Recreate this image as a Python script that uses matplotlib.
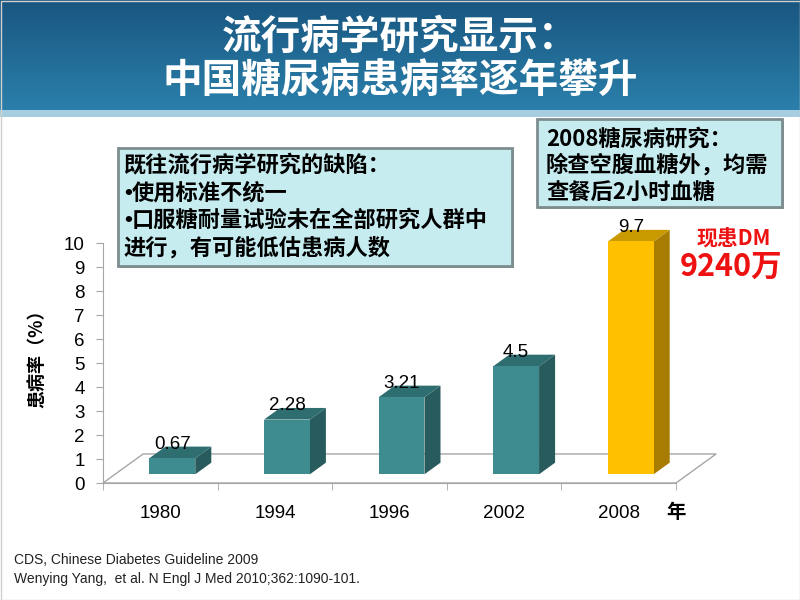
import numpy as np
import matplotlib
matplotlib.use("Agg")
import matplotlib.pyplot as plt
from matplotlib.patches import Rectangle, Polygon

CJK = ["Noto Sans CJK SC", "DejaVu Sans"]
LAT = ["Liberation Sans", "DejaVu Sans"]

# data
years = ["1980", "1994", "1996", "2002", "2008"]
prevalence = [0.67, 2.28, 3.21, 4.5, 9.7]
highlight = [False, False, False, False, True]

title_lines = ["流行病学研究显示：", "中国糖尿病患病率逐年攀升"]
box1_lines = ["既往流行病学研究的缺陷：", "•使用标准不统一",
              "•口服糖耐量试验未在全部研究人群中", "进行，有可能低估患病人数"]
box2_lines = ["2008糖尿病研究：", "除查空腹血糖外，均需", "查餐后2小时血糖"]
refs = ["CDS, Chinese Diabetes Guideline 2009",
        "Wenying Yang,  et al. N Engl J Med 2010;362:1090-101."]

fig = plt.figure(figsize=(8, 6), dpi=100)

# background / slide decorations in pixel coords
bg = fig.add_axes([0, 0, 1, 1], zorder=0)
bg.set_xlim(0, 800); bg.set_ylim(600, 0); bg.axis("off")
grad = np.linspace(0, 1, 100)[:, None]
bg.imshow(grad, extent=[0, 800, 110, 0], aspect="auto",
          cmap=matplotlib.colors.LinearSegmentedColormap.from_list("t", ["#195680", "#2a80ab"]))
bg.add_patch(Rectangle((0, 110), 800, 7, color="#a7cee0", lw=0))
bg.add_patch(Rectangle((0.5, 0.5), 799, 599, fill=False, ec="#d0d0d0", lw=1))
bg.set_xlim(0, 800); bg.set_ylim(600, 0)

bg.text(400, 37, title_lines[0], color="white", fontsize=28.5, fontweight="bold",
        family=CJK, ha="center", va="center")
bg.text(400, 80, title_lines[1], color="white", fontsize=28.5, fontweight="bold",
        family=CJK, ha="center", va="center")

# text boxes
for (x0, y0, w, h), lines, tx, ty, dy in [((118, 148, 394, 118), box1_lines, 124, 166, 27.2),
                                          ((537, 119, 245, 88), box2_lines, 546, 139, 26.5)]:
    bg.add_patch(Rectangle((x0 + 2, y0 + 2), w, h, fc="#8a9898", ec="none"))
    bg.add_patch(Rectangle((x0, y0), w, h, fc="#c6ecf0", ec="#7d8d8f", lw=2))
    for k, s in enumerate(lines):
        x = tx
        if s.startswith("•"):
            bg.text(x, ty + k * dy, "•", fontsize=16, fontweight="bold", family=LAT,
                    ha="left", va="center", color="black")
            x += 8
            s = s[1:]
        bg.text(x, ty + k * dy, s, fontsize=16, fontweight="bold", family=CJK,
                ha="left", va="center", color="black")

bg.text(734, 238, "现患DM", color="#ee1111", fontsize=15, fontweight="bold",
        family=CJK, ha="center", va="center")
bg.text(731, 267, "9240万", color="#ee1111", fontsize=22, fontweight="bold",
        family=CJK, ha="center", va="center")

for k, s in enumerate(refs):
    bg.text(14, 560 + k * 19, s, fontsize=10, family=LAT, color="#222222",
            ha="left", va="center")

bg.text(37, 354, "患病率（%）", rotation=90, fontsize=13, fontweight="bold",
        family=CJK, ha="center", va="center")

# chart axes
ax = fig.add_axes([103 / 800, 117 / 600, 573 / 800, 240 / 600], zorder=1)
ax.patch.set_alpha(0)
ax.set_xlim(0, len(years)); ax.set_ylim(0, 10)
for sp in ("top", "right"):
    ax.spines[sp].set_visible(False)
for sp in ("left", "bottom"):
    ax.spines[sp].set_color("#a6a6a6")
ax.set_yticks(range(0, 11))
ax.set_yticklabels([str(v) for v in range(0, 11)], family=LAT, fontsize=13.5)
ax.set_xticks(np.arange(len(years)) + 0.5)
ax.set_xticklabels(years, family=LAT, fontsize=13.5)
ax.set_xticks(np.arange(len(years) + 1), minor=True)
ax.tick_params(axis="x", which="major", length=0, pad=16)
ax.tick_params(axis="x", which="minor", length=5, color="#a6a6a6", direction="out")
ax.tick_params(axis="y", length=5, color="#a6a6a6", pad=8)

# 3D floor
fdx, fdy = 0.35, 1.21
floor = Polygon([(0, 0), (len(years), 0), (len(years) + fdx, fdy), (fdx, fdy)],
                closed=True, fc="white", ec="#a6a6a6", lw=1, clip_on=False, zorder=1)
ax.add_patch(floor)

# 3D bars
w = 0.4
f0 = 0.3
bdx, bdy = 0.4 * fdx, 0.4 * fdy
for i, (v, hl) in enumerate(zip(prevalence, highlight)):
    c = i + 0.5 + f0 * fdx
    x0, x1 = c - w / 2, c + w / 2
    y0 = f0 * fdy
    y1 = y0 + v
    if hl:
        front, top, side = "#ffc000", "#c99a00", "#a87c00"
    else:
        front, top, side = "#3e8c90", "#2e6d70", "#285b5d"
    ax.add_patch(Polygon([(x1, y0), (x1 + bdx, y0 + bdy), (x1 + bdx, y1 + bdy), (x1, y1)],
                         fc=side, ec="none", clip_on=False, zorder=2))
    ax.add_patch(Polygon([(x0, y1), (x1, y1), (x1 + bdx, y1 + bdy), (x0 + bdx, y1 + bdy)],
                         fc=top, ec="none", clip_on=False, zorder=2))
    ax.add_patch(Rectangle((x0, y0), w, v, fc=front, ec="none", clip_on=False, zorder=3))
    ax.text(c, y1 + bdy + 0.1, f"{v:g}", family=LAT, fontsize=13.5,
            ha="center", va="center", zorder=4)

ax.annotate("年", xy=(len(years), 0), xycoords="data", xytext=(0, -30),
            textcoords="offset pixels", ha="center", va="center",
            fontsize=14, fontweight="bold", family=CJK)

fig.savefig("out.png", dpi=100)
